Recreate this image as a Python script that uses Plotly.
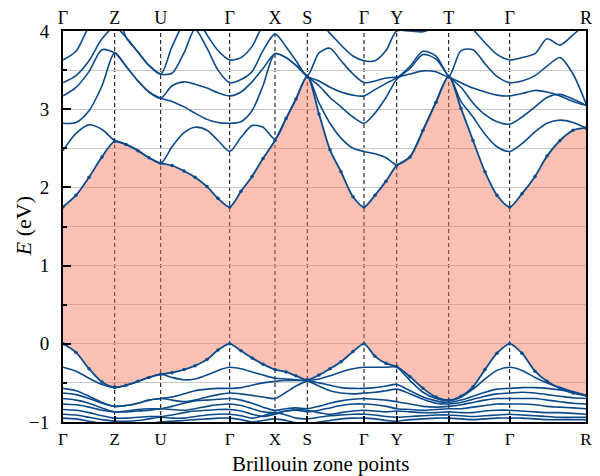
import plotly.graph_objects as go

# k-path sample positions (arbitrary path-length units)
K = [0, 0.13, 0.26, 0.39, 0.517,
     0.63, 0.75, 0.86, 0.977,
     1.09, 1.21, 1.32, 1.44, 1.55, 1.667,
     1.78, 1.89, 2.00, 2.12,
     2.23, 2.33, 2.443,
     2.56, 2.67, 2.78, 2.90, 3.01,
     3.12, 3.23, 3.337,
     3.47, 3.60, 3.73, 3.857,
     3.98, 4.10, 4.22, 4.34, 4.467,
     4.59, 4.72, 4.84, 4.97, 5.10, 5.23]

KPOINT_POS = [0, 0.517, 0.977, 1.667, 2.12, 2.443, 3.01, 3.337, 3.857, 4.467, 5.23]
KPOINT_LABELS = ["Γ", "Z", "U", "Γ", "X", "S", "Γ", "Y", "T", "Γ", "R"]

# conduction bands (eV)
CB1 = [1.75, 1.90, 2.13, 2.39, 2.59, 2.55, 2.47, 2.38, 2.31,
       2.28, 2.21, 2.13, 2.01, 1.86, 1.75, 1.95, 2.14, 2.37, 2.60,
       2.88, 3.13, 3.42, 2.94, 2.48, 2.20, 1.88, 1.75, 1.90, 2.08, 2.28,
       2.39, 2.73, 3.09, 3.42, 3.01, 2.60, 2.20, 1.90, 1.75,
       1.92, 2.14, 2.40, 2.60, 2.73, 2.76]
CB2 = [2.47, 2.69, 2.80, 2.74, 2.60, 2.55, 2.47, 2.38, 2.31,
       2.52, 2.70, 2.77, 2.73, 2.60, 2.46, 2.64, 2.79, 2.77, 2.62,
       2.88, 3.13, 3.42, 3.08, 2.82, 2.63, 2.50, 2.46, 2.43, 2.38, 2.29,
       2.39, 2.73, 3.09, 3.42, 3.10, 2.90, 2.68, 2.52, 2.46,
       2.56, 2.71, 2.82, 2.86, 2.83, 2.76]
CB3 = [2.82, 2.83, 2.98, 3.30, 3.72, 3.55, 3.36, 3.22, 3.14,
       3.10, 3.03, 2.95, 2.87, 2.83, 2.82, 2.84, 2.98, 3.30, 3.71,
       3.66, 3.56, 3.42, 3.30, 3.15, 3.03, 2.90, 2.82, 2.95, 3.15, 3.38,
       3.52, 3.70, 3.64, 3.42, 3.28, 3.08, 2.93, 2.84, 2.81,
       2.90, 3.03, 3.15, 3.19, 3.13, 3.05]
CB4 = [3.17, 3.28, 3.48, 3.76, 3.72, 3.55, 3.36, 3.22, 3.14,
       3.30, 3.35, 3.32, 3.27, 3.21, 3.17, 3.22, 3.35, 3.52, 3.71,
       3.66, 3.56, 3.42, 3.36, 3.28, 3.22, 3.18, 3.17, 3.25, 3.33, 3.40,
       3.55, 3.74, 3.68, 3.42, 3.34, 3.27, 3.22, 3.18, 3.17,
       3.20, 3.24, 3.22, 3.17, 3.10, 3.05]
CB5 = [3.34, 3.43, 3.62, 3.90, 4.05, 3.92, 3.73, 3.56, 3.45,
       3.46, 3.72, 4.02, 3.78, 3.50, 3.34, 3.38, 3.48, 3.75, 3.96,
       3.80, 3.62, 3.43, 3.72, 3.78, 3.62, 3.45, 3.34, 3.36, 3.40, 3.41,
       3.45, 3.49, 3.48, 3.42, 3.75, 3.76, 3.58, 3.42, 3.34,
       3.36, 3.43, 3.55, 3.66, 3.45, 3.07]
CB6 = [3.63, 3.74, 4.05, 4.20, 4.30, 3.92, 3.73, 3.56, 3.45,
       3.80, 4.10, 4.20, 3.95, 3.75, 3.63, 3.66, 3.80, 4.05, 4.02,
       4.02, 4.05, 4.10, 4.10, 3.97, 3.82, 3.68, 3.62, 3.62, 3.75, 4.00,
       4.00, 3.99, 4.05, 4.10, 4.15, 4.02, 3.85, 3.70, 3.63,
       3.66, 3.71, 3.90, 3.82, 3.95, 4.10]

# valence bands (eV)
VB1 = [0.00, -0.11, -0.32, -0.49, -0.555, -0.53, -0.48, -0.43, -0.39,
       -0.37, -0.33, -0.28, -0.20, -0.08, 0.00, -0.09, -0.18, -0.26, -0.33,
       -0.36, -0.41, -0.46, -0.40, -0.32, -0.23, -0.10, 0.00, -0.16, -0.25, -0.29,
       -0.42, -0.57, -0.68, -0.72, -0.67, -0.55, -0.33, -0.12, 0.00,
       -0.12, -0.35, -0.48, -0.57, -0.63, -0.66]
VB2 = [-0.30, -0.35, -0.44, -0.52, -0.56, -0.53, -0.48, -0.43, -0.39,
       -0.43, -0.46, -0.45, -0.40, -0.34, -0.30, -0.32, -0.36, -0.40, -0.44,
       -0.45, -0.46, -0.47, -0.45, -0.41, -0.36, -0.32, -0.30, -0.30, -0.30, -0.30,
       -0.47, -0.62, -0.70, -0.73, -0.68, -0.58, -0.45, -0.34, -0.30,
       -0.34, -0.43, -0.50, -0.56, -0.61, -0.66]
VB3 = [-0.57, -0.60, -0.67, -0.75, -0.80, -0.79, -0.76, -0.72, -0.70,
       -0.68, -0.64, -0.60, -0.58, -0.57, -0.57, -0.56, -0.53, -0.50, -0.48,
       -0.47, -0.47, -0.47, -0.50, -0.53, -0.56, -0.57, -0.57, -0.56, -0.54, -0.52,
       -0.60, -0.68, -0.73, -0.75, -0.72, -0.67, -0.62, -0.58, -0.57,
       -0.56, -0.56, -0.57, -0.59, -0.62, -0.66]
VB4 = [-0.63, -0.65, -0.70, -0.76, -0.80, -0.79, -0.76, -0.72, -0.70,
       -0.72, -0.74, -0.72, -0.68, -0.65, -0.63, -0.64, -0.66, -0.68, -0.70,
       -0.62, -0.54, -0.48, -0.54, -0.60, -0.63, -0.64, -0.63, -0.62, -0.60, -0.58,
       -0.64, -0.71, -0.76, -0.77, -0.75, -0.71, -0.67, -0.64, -0.63,
       -0.62, -0.63, -0.65, -0.67, -0.69, -0.70]
VB5 = [-0.70, -0.72, -0.76, -0.82, -0.87, -0.86, -0.84, -0.83, -0.83,
       -0.80, -0.76, -0.73, -0.72, -0.71, -0.70, -0.72, -0.76, -0.81, -0.85,
       -0.83, -0.82, -0.83, -0.80, -0.76, -0.73, -0.71, -0.70, -0.71, -0.72, -0.74,
       -0.77, -0.80, -0.81, -0.80, -0.78, -0.75, -0.72, -0.70, -0.70,
       -0.70, -0.70, -0.72, -0.74, -0.76, -0.77]
VB6 = [-0.77, -0.78, -0.81, -0.85, -0.87, -0.87, -0.86, -0.85, -0.83,
       -0.84, -0.85, -0.83, -0.80, -0.78, -0.77, -0.79, -0.83, -0.87, -0.88,
       -0.86, -0.85, -0.87, -0.85, -0.82, -0.79, -0.77, -0.77, -0.78, -0.80, -0.83,
       -0.84, -0.85, -0.84, -0.83, -0.83, -0.81, -0.79, -0.77, -0.77,
       -0.77, -0.78, -0.80, -0.81, -0.82, -0.83]
VB7 = [-0.84, -0.85, -0.88, -0.92, -0.95, -0.95, -0.94, -0.93, -0.93,
       -0.91, -0.88, -0.86, -0.85, -0.84, -0.84, -0.86, -0.90, -0.93, -0.90,
       -0.86, -0.84, -0.85, -0.88, -0.90, -0.88, -0.86, -0.85, -0.86, -0.87, -0.86,
       -0.87, -0.88, -0.88, -0.87, -0.88, -0.88, -0.86, -0.85, -0.85,
       -0.86, -0.87, -0.88, -0.88, -0.89, -0.90]
VB8 = [-0.90, -0.91, -0.94, -0.97, -0.99, -0.99, -0.98, -0.96, -0.94,
       -0.95, -0.95, -0.93, -0.91, -0.90, -0.90, -0.92, -0.95, -0.92, -0.88,
       -0.91, -0.95, -0.96, -0.94, -0.92, -0.91, -0.90, -0.90, -0.91, -0.93, -0.94,
       -0.93, -0.92, -0.91, -0.91, -0.92, -0.93, -0.92, -0.91, -0.90,
       -0.91, -0.92, -0.93, -0.94, -0.94, -0.94]
VB9 = [-0.95, -0.96, -0.99, -1.02, -1.05, -1.05, -1.04, -1.02, -1.00,
       -0.99, -0.98, -0.97, -0.96, -0.95, -0.95, -0.97, -1.00, -0.98, -0.96,
       -0.98, -1.01, -1.02, -1.00, -0.98, -0.96, -0.95, -0.95, -0.96, -0.98, -0.99,
       -0.97, -0.96, -0.95, -0.95, -0.96, -0.97, -0.96, -0.95, -0.95,
       -0.95, -0.96, -0.97, -0.97, -0.97, -0.97]

OTHER_BANDS = [CB2, CB3, CB4, CB5, CB6, VB2, VB3, VB4, VB5, VB6, VB7, VB8, VB9]
for b in OTHER_BANDS + [CB1, VB1]:
    assert len(b) == len(K), len(b)

BAND_COLOR = "#0d4a8a"
FILL_COLOR = "rgba(246,118,88,0.45)"
SERIF = "Liberation Serif"

fig = go.Figure()

# gap fill between VBM and CBM
fig.add_trace(go.Scatter(x=K, y=VB1, mode="lines", line=dict(width=0, shape="spline", smoothing=0.8),
                         hoverinfo="skip", showlegend=False))
fig.add_trace(go.Scatter(x=K, y=CB1, mode="lines", line=dict(width=0, shape="spline", smoothing=0.8),
                         fill="tonexty", fillcolor=FILL_COLOR, hoverinfo="skip", showlegend=False))

for b in OTHER_BANDS:
    fig.add_trace(go.Scatter(x=K, y=b, mode="lines",
                             line=dict(color=BAND_COLOR, width=1.6, shape="spline", smoothing=0.8),
                             showlegend=False, hoverinfo="skip"))

for b in (VB1, CB1):
    fig.add_trace(go.Scatter(x=K, y=b, mode="lines+markers",
                             line=dict(color=BAND_COLOR, width=1.8, shape="spline", smoothing=0.8),
                             marker=dict(color=BAND_COLOR, size=3.5),
                             showlegend=False, hoverinfo="skip"))

# invisible trace for top axis
fig.add_trace(go.Scatter(x=[KPOINT_POS[0], KPOINT_POS[-1]], y=[-2, -2], xaxis="x2", mode="markers",
                         marker=dict(opacity=0), showlegend=False, hoverinfo="skip"))

shapes = []
for xp in KPOINT_POS[1:-1]:
    shapes.append(dict(type="line", xref="x", yref="paper", x0=xp, x1=xp, y0=0, y1=1,
                       line=dict(color="black", width=1, dash="4px,3px"), layer="below"))

annotations = [
    dict(text="Brillouin zone points", xref="paper", yref="paper", x=0.493, y=-0.108,
         xanchor="center", yanchor="middle", showarrow=False,
         font=dict(family=SERIF, size=21, color="black")),
    dict(text="<i>E</i> (eV)", xref="paper", yref="paper", x=-0.075, y=0.5,
         xanchor="center", yanchor="middle", showarrow=False, textangle=-90,
         font=dict(family=SERIF, size=22, color="black")),
]

fig.update_layout(
    width=600, height=476,
    margin=dict(l=63, r=14, t=31, b=54),
    paper_bgcolor="white", plot_bgcolor="white",
    shapes=shapes,
    annotations=annotations,
    font=dict(family=SERIF, color="black"),
    xaxis=dict(range=[KPOINT_POS[0], KPOINT_POS[-1]], tickvals=KPOINT_POS, ticktext=KPOINT_LABELS,
               ticks="inside", ticklen=6, tickwidth=1.5, tickcolor="black", automargin=False,
               showline=True, linecolor="black", linewidth=2, mirror=True,
               showgrid=False, zeroline=False, ticklabelstandoff=1,
               tickfont=dict(family=SERIF, size=17, color="black")),
    xaxis2=dict(range=[KPOINT_POS[0], KPOINT_POS[-1]], overlaying="x", side="top", anchor="y",
                tickvals=KPOINT_POS, ticktext=KPOINT_LABELS, ticks="", showline=False, automargin=False,
                showgrid=False, zeroline=False, ticklabelstandoff=2,
                tickfont=dict(family=SERIF, size=18, color="black")),
    yaxis=dict(range=[-1, 4], tickvals=[-1, 0, 1, 2, 3, 4], ticks="inside", ticklen=8, tickwidth=1.5,
               tickcolor="black", showline=True, linecolor="black", linewidth=2, mirror=True,
               showgrid=True, gridcolor="#c9c9c9", gridwidth=1, zeroline=False, automargin=False,
               minor=dict(dtick=0.5, tick0=0, ticks="inside", ticklen=4, tickcolor="black",
                          showgrid=True, gridcolor="#c9c9c9", gridwidth=1),
               ticklabelstandoff=8,
               tickfont=dict(family=SERIF, size=19, color="black")),
)

fig.write_html("out.html")
